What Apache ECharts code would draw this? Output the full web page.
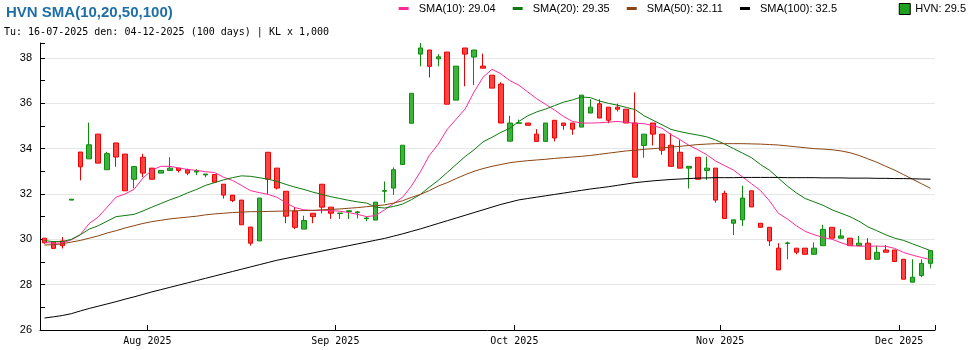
<!DOCTYPE html>
<html><head><meta charset="utf-8">
<script src="https://cdn.jsdelivr.net/npm/echarts@6/dist/echarts.min.js"></script>
<style>html,body{margin:0;padding:0;background:#fff}#c{width:970px;height:350px}</style>
</head><body><div id="c"></div>
<script>
const dates = [
'2025-07-16','2025-07-17','2025-07-18','2025-07-21','2025-07-22','2025-07-23','2025-07-24','2025-07-25','2025-07-28','2025-07-29','2025-07-30','2025-07-31',
'2025-08-01','2025-08-04','2025-08-05','2025-08-06','2025-08-07','2025-08-08','2025-08-11','2025-08-12','2025-08-13','2025-08-14','2025-08-15','2025-08-18','2025-08-19','2025-08-20','2025-08-21','2025-08-22','2025-08-25','2025-08-26','2025-08-27','2025-08-28','2025-08-29',
'2025-09-03','2025-09-04','2025-09-05','2025-09-08','2025-09-09','2025-09-10','2025-09-11','2025-09-12','2025-09-15','2025-09-16','2025-09-17','2025-09-18','2025-09-19','2025-09-22','2025-09-23','2025-09-24','2025-09-25','2025-09-26','2025-09-29','2025-09-30',
'2025-10-01','2025-10-02','2025-10-03','2025-10-06','2025-10-07','2025-10-08','2025-10-09','2025-10-10','2025-10-13','2025-10-14','2025-10-15','2025-10-16','2025-10-17','2025-10-20','2025-10-21','2025-10-22','2025-10-23','2025-10-24','2025-10-27','2025-10-28','2025-10-29','2025-10-30','2025-10-31',
'2025-11-03','2025-11-04','2025-11-05','2025-11-06','2025-11-07','2025-11-10','2025-11-11','2025-11-12','2025-11-13','2025-11-14','2025-11-17','2025-11-18','2025-11-19','2025-11-20','2025-11-21','2025-11-24','2025-11-25','2025-11-26','2025-11-27','2025-11-28',
'2025-12-01','2025-12-02','2025-12-03','2025-12-04'];

const opens = [30.05,29.9,29.93,31.73,33.85,33.55,34.64,33.07,34.25,33.76,
32.65,33.62,33.14,32.92,33.04,33.14,33.07,32.97,32.84,32.86,
32.43,31.95,31.73,30.54,29.93,33.84,33.14,32.12,31.24,30.45,
31.15,32.43,31.42,31.14,31.23,31.18,30.91,30.85,32.12,32.26,
33.3,35.12,38.17,38.35,37.96,38.26,36.14,38.44,38.04,37.64,
37.24,36.85,34.33,35.12,35.13,34.64,34.32,35.25,35.13,35.13,
34.95,35.57,35.98,35.83,35.83,35.74,35.13,34.14,35.13,34.64,
34.15,33.84,33.14,33.62,33.04,33.14,32.03,30.71,30.86,32.14,
30.71,30.53,29.61,29.82,29.61,29.61,29.34,29.72,30.53,30.05,
30.05,29.72,29.83,29.12,29.53,29.53,29.12,28.11,28.4,28.94];

const closes = [29.85,29.6,29.72,31.77,33.2,34.17,33.36,33.78,33.63,32.14,
33.21,32.92,32.65,33.04,33.14,33.04,32.92,33.02,32.88,32.52,
31.95,31.71,30.64,29.83,31.82,32.65,32.26,31.02,30.53,30.83,
31.0,31.42,31.15,31.16,31.26,31.21,30.94,31.64,32.15,33.07,
34.15,36.44,38.44,37.63,38.05,35.96,37.64,38.17,38.35,37.55,
36.67,35.13,35.13,35.14,35.03,34.32,35.13,34.47,35.02,34.86,
36.36,35.83,35.35,35.25,35.74,35.13,32.74,34.64,34.64,33.93,
33.22,33.14,33.22,32.65,33.14,31.73,30.92,30.86,31.82,31.43,
30.53,29.93,28.65,29.84,29.43,29.34,29.61,30.44,30.05,30.15,
29.72,29.83,29.12,29.43,29.43,29.02,28.24,28.33,28.94,29.5];

const lows = [29.8,29.6,29.6,31.73,32.6,33.55,33.36,33.07,33.2,32.14,
32.25,32.74,32.65,32.92,33.04,32.95,32.83,32.83,32.74,32.52,
31.8,31.64,30.64,29.72,29.93,32.0,32.2,30.71,30.45,30.45,
30.71,31.15,30.9,30.9,30.9,30.92,30.8,30.85,31.62,31.96,
33.3,35.12,37.63,37.14,37.63,35.96,36.14,36.75,36.8,37.55,
36.67,35.13,34.33,35.12,35.03,34.32,34.32,34.32,34.83,34.61,
34.95,35.57,35.35,35.12,35.64,35.13,32.74,33.6,34.14,33.73,
33.22,33.14,32.24,32.65,32.62,31.62,30.92,30.19,30.59,31.43,
30.53,29.71,28.65,29.12,29.34,29.34,29.34,29.72,30.05,30.05,
29.72,29.72,29.12,29.12,29.43,29.02,28.24,28.11,28.33,28.72];

const highs = [30.05,29.9,30.1,31.77,33.85,35.15,34.64,33.86,34.25,33.76,
33.21,33.77,33.14,33.04,33.62,33.14,33.12,33.1,32.88,32.86,
32.43,31.95,31.73,30.54,31.82,33.84,33.14,32.12,31.42,31.04,
31.15,32.43,31.42,31.16,31.26,31.25,31.0,31.64,32.55,33.17,
34.15,36.44,38.66,38.35,38.17,38.26,37.64,38.44,38.35,38.19,
37.24,36.93,35.45,35.28,35.13,34.86,35.13,35.25,35.13,35.13,
36.36,36.18,36.18,35.83,35.98,35.74,36.48,34.64,35.13,34.64,
34.68,34.37,33.22,33.62,33.65,33.14,32.14,30.86,32.36,32.14,
30.71,30.53,29.83,29.9,29.61,29.61,29.86,30.64,30.53,30.45,
30.05,30.15,30.05,29.72,29.75,29.53,29.12,29.12,29.12,29.5];

const sma10 = [29.86,29.83,29.84,29.98,30.2,30.7,30.98,31.42,31.86,32.0,
32.2,32.7,33.05,33.22,33.22,33.15,33.08,33.04,32.98,32.95,
32.74,32.6,32.38,32.15,32.06,31.98,31.85,31.6,31.4,31.3,
31.27,31.28,31.27,31.24,31.18,31.1,31.0,31.05,31.3,31.58,
31.85,32.35,32.98,33.7,34.2,34.85,35.3,35.75,36.5,37.15,
37.5,37.3,37.0,36.8,36.5,36.2,35.95,35.7,35.42,35.2,
35.13,35.13,35.14,35.17,35.2,35.16,35.12,35.1,35.02,34.9,
34.62,34.4,34.15,33.95,33.73,33.45,33.25,33.05,32.75,32.45,
32.15,31.7,31.15,30.9,30.6,30.35,30.2,30.08,30.0,29.85,
29.72,29.7,29.7,29.7,29.69,29.6,29.42,29.3,29.2,29.1];

const sma20 = [29.94,29.9,29.9,30.0,30.2,30.45,30.6,30.8,31.0,31.05,
31.1,31.25,31.42,31.58,31.74,31.88,32.05,32.2,32.38,32.5,
32.62,32.72,32.8,32.78,32.72,32.65,32.55,32.42,32.3,32.2,
32.08,31.98,31.88,31.8,31.72,31.65,31.6,31.42,31.38,31.45,
31.55,31.75,31.98,32.3,32.6,32.95,33.3,33.65,33.95,34.3,
34.5,34.72,34.9,35.2,35.45,35.62,35.75,35.9,36.05,36.15,
36.28,36.25,36.1,36.0,35.92,35.82,35.72,35.45,35.25,35.05,
34.85,34.75,34.67,34.6,34.52,34.38,34.2,34.0,33.8,33.6,
33.3,33.05,32.7,32.35,32.05,31.8,31.65,31.5,31.3,31.15,
31.0,30.8,30.55,30.38,30.2,30.05,29.95,29.8,29.65,29.5];

const sma50 = [29.75,29.76,29.8,29.88,29.95,30.05,30.15,30.28,30.38,30.5,
30.6,30.7,30.78,30.84,30.9,30.94,30.98,31.02,31.08,31.12,
31.15,31.18,31.2,31.22,31.22,31.23,31.24,31.25,31.26,31.27,
31.28,31.3,31.32,31.34,31.37,31.4,31.44,31.48,31.52,31.6,
31.7,31.85,31.98,32.15,32.35,32.5,32.68,32.85,33.0,33.12,
33.22,33.3,33.38,33.43,33.47,33.5,33.53,33.57,33.6,33.63,
33.66,33.7,33.75,33.8,33.85,33.9,33.93,33.97,34.0,34.03,
34.07,34.1,34.14,34.18,34.2,34.22,34.22,34.22,34.22,34.21,
34.2,34.18,34.16,34.12,34.08,34.04,34.0,33.98,33.95,33.9,
33.82,33.7,33.55,33.4,33.22,33.05,32.85,32.65,32.45,32.25];

const sma100 = [26.53,26.58,26.64,26.72,26.84,26.95,27.05,27.15,27.25,27.36,
27.46,27.57,27.68,27.78,27.88,27.98,28.08,28.18,28.28,28.38,
28.48,28.58,28.68,28.78,28.88,28.98,29.08,29.16,29.24,29.32,
29.4,29.48,29.56,29.64,29.72,29.8,29.88,29.96,30.04,30.14,
30.24,30.35,30.46,30.58,30.7,30.82,30.94,31.06,31.18,31.3,
31.42,31.54,31.64,31.74,31.8,31.86,31.92,31.98,32.04,32.1,
32.16,32.22,32.27,32.32,32.38,32.44,32.5,32.54,32.58,32.61,
32.64,32.66,32.68,32.7,32.71,32.72,32.72,32.72,32.73,32.73,
32.73,32.73,32.73,32.72,32.72,32.72,32.72,32.71,32.71,32.71,
32.7,32.7,32.7,32.69,32.69,32.68,32.68,32.67,32.66,32.65];

const seriesNames = ['SMA(10): 29.04','SMA(20): 29.35','SMA(50): 32.11','SMA(100): 32.5'];
const stockName = 'HVN: 29.5';
const titleText = 'HVN SMA(10,20,50,100)';
const subText = 'Tu: 16-07-2025 den: 04-12-2025 (100 days) | KL x 1,000';
const monthNames = ['Jan','Feb','Mar','Apr','May','Jun','Jul','Aug','Sep','Oct','Nov','Dec'];

const lineColors = ['#ff2a9a','#0f7a0f','#8b4513','#000000'];
const smaData = [sma10, sma20, sma50, sma100];
const candleData = dates.map((d,i)=>[opens[i],closes[i],lows[i],highs[i]]);
const isMonthStart = (i) => i > 0 && dates[i].slice(5,7) !== dates[i-1].slice(5,7);

const chart = echarts.init(document.getElementById('c'), null, {renderer:'canvas'});
chart.setOption({
  animation:false,
  backgroundColor:'#fff',
  title:[
    {text:titleText, left:1, top:0, textStyle:{fontFamily:'Liberation Sans, Arial, sans-serif', fontWeight:'bold', fontSize:15, color:'#1f6fa6'}},
    {text:subText, left:-1, top:22, textStyle:{fontFamily:'DejaVu Sans Mono, monospace', fontWeight:'normal', fontSize:10, color:'#000'}}
  ],
  legend:[
    {data:seriesNames.map(n=>({name:n, icon:'rect'})), right:133, top:3, padding:0, itemWidth:10, itemHeight:3, itemGap:17, selectedMode:false,
     textStyle:{fontFamily:'Liberation Sans, Arial, sans-serif', fontSize:11, color:'#000', padding:[0,0,0,5]}},
    {data:[{name:stockName, icon:'rect', itemStyle:{color:'#1fa01f', borderColor:'#000', borderWidth:1}}], right:4, top:3, padding:0, itemWidth:11, itemHeight:11, selectedMode:false,
     textStyle:{fontFamily:'Liberation Sans, Arial, sans-serif', fontSize:11, color:'#000'}}
  ],
  grid:{left:40, right:35, top:43, bottom:20},
  xAxis:{
    type:'category', data:dates, boundaryGap:true,
    axisLine:{lineStyle:{color:'#000', width:1}},
    axisTick:{show:true, inside:true, length:5, interval:(i)=>isMonthStart(i), lineStyle:{color:'#000'}},
    axisLabel:{interval:(i)=>isMonthStart(i), formatter:(v)=>monthNames[parseInt(v.slice(5,7),10)-1]+' '+v.slice(0,4),
      fontFamily:'DejaVu Sans Mono, monospace', fontSize:10, color:'#000', margin:6, padding:[0,9,0,0]},
    splitLine:{show:false}
  },
  yAxis:{
    type:'value', min:26, max:38.66, interval:2,
    axisLine:{show:true, lineStyle:{color:'#000', width:1}},
    axisTick:{show:true, inside:true, length:5, lineStyle:{color:'#000'}},
    minorTick:{show:true, splitNumber:2, length:5, lineStyle:{color:'#000'}},
    axisLabel:{showMaxLabel:false, fontFamily:'Liberation Sans, Arial, sans-serif', fontSize:11, color:'#000', margin:8},
    splitLine:{show:true, showMaxLine:false, showMinLine:false, lineStyle:{color:'#e6e6e6', width:1}}
  },
  series:[
    {name:stockName, type:'candlestick', data:candleData, barWidth:5,
     itemStyle:{color:'#3cb43c', color0:'#ff4343', borderColor:'#0c8c0c', borderColor0:'#ee0000', borderWidth:1}},
  ].concat(smaData.map((arr,k)=>({
    name:seriesNames[k], type:'line', data:arr, symbol:'none', showSymbol:false, smooth:false,
    itemStyle:{color:lineColors[k]}, lineStyle:{color:lineColors[k], width:1}, z:3
  })))
});
</script></body></html>
